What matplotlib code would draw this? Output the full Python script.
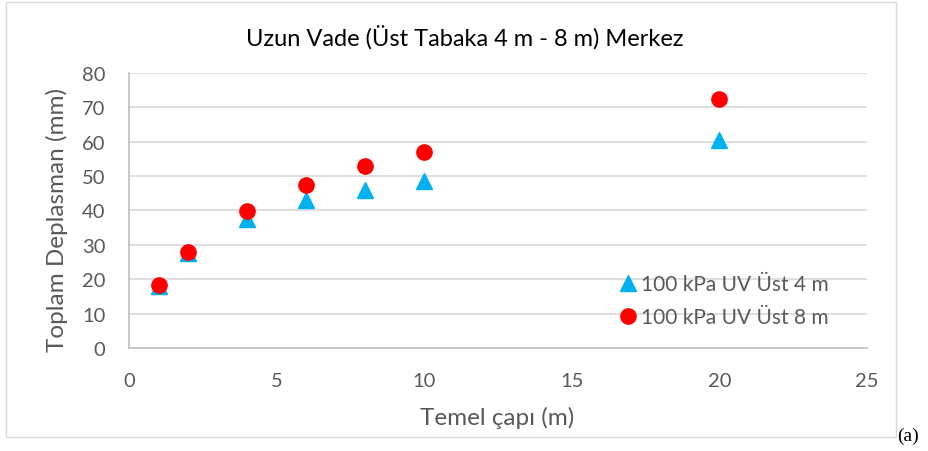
import matplotlib.pyplot as plt
from matplotlib.patches import Rectangle

plt.rcParams['font.family'] = ['Lato', 'DejaVu Sans']

# Temel çapı (m)
capi = [1, 2, 4, 6, 8, 10, 20]
# Toplam deplasman (mm) - üst tabaka 4 m ve 8 m
deplasman_4m = [18.0, 27.5, 37.5, 43.0, 46.0, 48.7, 60.6]
deplasman_8m = [18.3, 27.8, 39.8, 47.5, 53.0, 57.0, 72.3]

etiket_4m = '100 kPa UV Üst 4 m'
etiket_8m = '100 kPa UV Üst 8 m'
baslik = 'Uzun Vade (Üst Tabaka 4 m - 8 m) Merkez'

fig = plt.figure(figsize=(9.29, 4.52), dpi=100)
ax = fig.add_axes([0.1389, 0.2279, 0.7944, 0.6084])

# grafik çerçevesi
fig.patches.append(Rectangle((0.006, 0.031), 0.958, 0.962, transform=fig.transFigure,
                             fill=False, edgecolor='#d9d9d9', linewidth=1))

ax.plot(capi, deplasman_4m, linestyle='none', marker='^', markersize=11,
        color='#00b0f0', label=etiket_4m)
ax.plot(capi, deplasman_8m, linestyle='none', marker='o', markersize=11,
        color='#ff0000', label=etiket_8m)

ax.set_xlim(0, 25)
ax.set_ylim(0, 80)
ax.set_xticks(range(0, 26, 5))
ax.set_yticks(range(0, 81, 10))
ax.grid(axis='y', color='#d9d9d9', linewidth=1.2)
ax.set_axisbelow(True)
for s in ['top', 'right']:
    ax.spines[s].set_visible(False)
for s in ['left', 'bottom']:
    ax.spines[s].set_color('#bfbfbf')
    ax.spines[s].set_linewidth(1.2)
ax.tick_params(axis='both', length=0, labelsize=14.5, labelcolor='#595959')
ax.tick_params(axis='x', pad=17)
ax.tick_params(axis='y', pad=17)

ax.set_xlabel('Temel çapı (m)', fontsize=17.5, color='#595959')
ax.set_ylabel('Toplam Deplasman (mm)', fontsize=17.5, color='#595959')
ax.xaxis.set_label_coords(0.499, -0.212)
ax.yaxis.set_label_coords(-0.083, 0.47)
fig.text(0.5, 0.918, baslik, ha='center', va='center', fontsize=17, color='#000000')

ax.legend(loc='upper left', bbox_to_anchor=(0.662, 0.268), frameon=False, fontsize=15,
          labelcolor='#595959', handletextpad=0.1, borderaxespad=0, borderpad=0,
          labelspacing=0.62, handlelength=1.0)

fig.text(0.966, 0.035, '(a)', ha='left', va='center', fontsize=14,
         family=['Liberation Serif'])

fig.savefig('out.png', dpi=100, facecolor='white')
